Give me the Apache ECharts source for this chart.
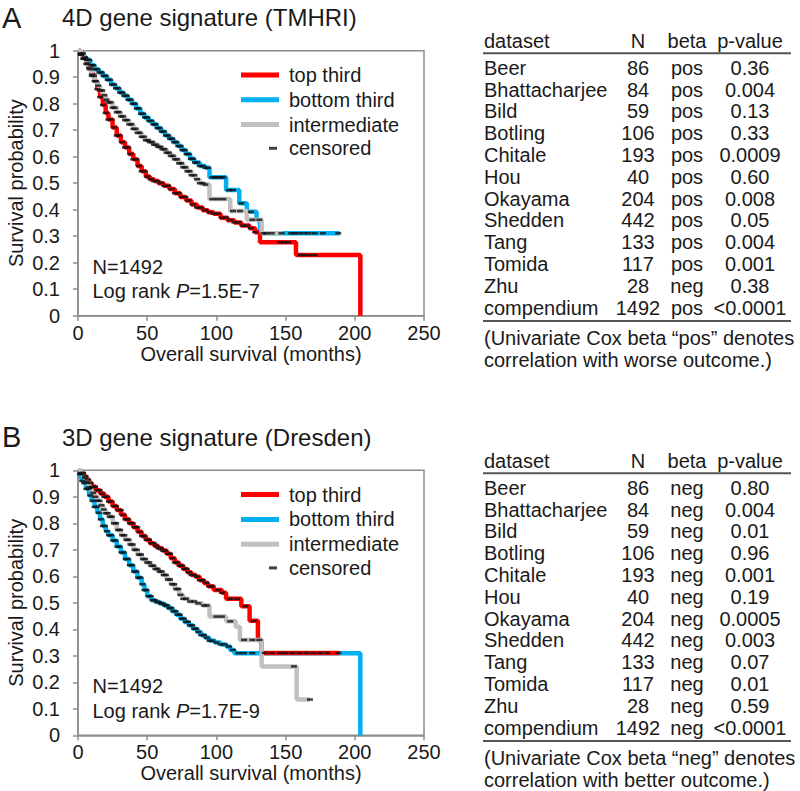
<!DOCTYPE html>
<html><head><meta charset="utf-8">
<script src="https://cdn.jsdelivr.net/npm/echarts@6/dist/echarts.min.js"></script>
<style>html,body{margin:0;padding:0;background:#fff}#c{width:800px;height:791px}</style>
</head><body><div id="c"></div>
<script>
// ---------- data ----------
const xTicks = [0, 50, 100, 150, 200, 250];
const seriesNames = ['top third', 'bottom third', 'intermediate'];

// Panel A (4D gene signature, TMHRI): [months, survival]
const aTop = [[0,1],[2,0.985],[4,0.97],[6,0.95],[8,0.935],[10,0.91],[12,0.885],[14,0.855],[16,0.825],[18,0.795],[20,0.765],[22,0.74],[25,0.71],[28,0.68],[31,0.655],[34,0.635],[37,0.61],[40,0.59],[43,0.565],[46,0.545],[49,0.525],[52,0.515],[55,0.508],[58,0.5],[62,0.49],[66,0.478],[70,0.462],[74,0.448],[78,0.435],[82,0.42],[86,0.408],[90,0.398],[94,0.39],[98,0.385],[103,0.37],[108,0.36],[113,0.352],[118,0.34],[124,0.33],[128,0.315],[131.5,0.277],[157.5,0.229],[204,0]];
const aBottom = [[0,1],[2,0.99],[4,0.975],[6,0.965],[9,0.945],[12,0.93],[15,0.918],[18,0.905],[21,0.89],[24,0.872],[27,0.858],[30,0.842],[33,0.83],[36,0.815],[39,0.8],[42,0.782],[45,0.762],[48,0.748],[51,0.735],[54,0.722],[57,0.708],[60,0.695],[63,0.68],[66,0.668],[69,0.655],[72,0.64],[75,0.625],[78,0.61],[81,0.592],[84,0.578],[88,0.565],[92,0.558],[95,0.522],[107,0.474],[116.5,0.424],[122,0.392],[129,0.361],[131.5,0.311],[189,0.311]];
const aMid = [[0,1],[2,0.985],[4,0.97],[6,0.952],[8,0.93],[10,0.905],[12,0.885],[14,0.868],[16,0.85],[18,0.832],[20,0.815],[22,0.805],[25,0.785],[28,0.768],[31,0.752],[34,0.738],[37,0.722],[40,0.705],[43,0.69],[46,0.675],[49,0.662],[52,0.655],[55,0.645],[58,0.637],[61,0.628],[64,0.615],[67,0.603],[70,0.59],[73,0.575],[76,0.56],[79,0.545],[82,0.53],[85,0.515],[88,0.5],[91,0.495],[95,0.44],[110,0.395],[122,0.362],[132.7,0.311],[148,0.311]];
const aTopCens = [2,4,6,8,10,12,14,16,18,20,22,24,26,28,30,32,34,36,38,40,42,44,46,48,50,52.5,55,57.5,60,62.5,65,67.5,70,72.5,75,77.5,80,83,86,89,92,95,98,101,104,107,110,113,116,119,122,125,128,146,149,152,161,164,167,171];
const aBottomCens = [2,3.5,5,6.5,8,9.5,11,12.5,14,15.5,17,18.5,20,21.5,23,24.5,26,27.5,29,30.5,32,33.5,35,36.5,38,39.5,41,42.5,44,45.5,47,48.5,50,51.5,53,54.5,56,57.5,59,60.5,62,63.5,65,66.5,68,69.5,71,72.5,74,75.5,77,78.5,80,81.5,83,84.5,86,88,90,92,94,97,99,101,103,105,109,112,118,125,134,147,154,156,159,163,166.5,171,177,188];
const aMidCens = [2.5,4,5.5,7,8.5,10,11.5,13,14.5,16,17.5,19,20.5,22,23.5,25,26.5,28,29.5,31,32.5,34,35.5,37,38.5,40,41.5,43,44.5,46,47.5,49,50.5,52,53.5,55,56.5,58,59.5,61,62.5,64,65.5,67,68.5,70,71.5,73,74.5,76,77.5,79,80.5,82,84,86,88,90,92,97,101,105,112,117,126,131,136,140];

// Panel B (3D gene signature, Dresden)
const bTop = [[0,1],[2,0.99],[4,0.978],[6,0.965],[8,0.952],[10,0.938],[13,0.925],[16,0.912],[19,0.9],[22,0.882],[25,0.865],[28,0.85],[31,0.832],[34,0.815],[37,0.8],[40,0.785],[43,0.768],[46,0.752],[49,0.738],[52,0.725],[55,0.715],[58,0.706],[61,0.697],[64,0.685],[67,0.668],[70,0.652],[73,0.64],[76,0.628],[79,0.615],[82,0.605],[85,0.598],[88,0.585],[91,0.575],[94,0.562],[98,0.548],[104,0.538],[107,0.515],[118,0.487],[124,0.432],[130,0.36],[132.7,0.311],[189,0.311]];
const bBottom = [[0,1],[1,0.985],[2,0.97],[3,0.96],[4,0.952],[6,0.93],[8,0.905],[10,0.885],[12,0.862],[14,0.84],[16,0.815],[18,0.79],[20,0.77],[22,0.755],[25,0.735],[28,0.712],[31,0.69],[34,0.665],[37,0.642],[40,0.618],[43,0.595],[46,0.57],[48,0.548],[50,0.525],[53,0.51],[56,0.503],[59,0.497],[62,0.49],[65,0.48],[68,0.468],[71,0.455],[74,0.44],[77,0.428],[80,0.415],[83,0.402],[86,0.39],[89,0.378],[92,0.368],[95,0.357],[99,0.35],[103,0.343],[107,0.335],[110,0.322],[113,0.31],[204,0]];
const bMid = [[0,1],[2,0.988],[4,0.972],[6,0.955],[8,0.935],[10,0.915],[12,0.9],[14,0.885],[16,0.868],[18,0.852],[20,0.838],[22,0.825],[25,0.8],[28,0.775],[31,0.755],[34,0.738],[37,0.72],[40,0.7],[43,0.682],[46,0.665],[49,0.652],[52,0.64],[55,0.628],[58,0.618],[61,0.605],[64,0.588],[67,0.57],[70,0.552],[73,0.53],[76,0.515],[80,0.505],[85,0.498],[90,0.49],[95,0.448],[107,0.43],[114,0.41],[117,0.36],[132.7,0.26],[158,0.135],[167.6,0.135]];
const bTopCens = [2,3.7,5.4,7.1,8.8,10.5,12.2,13.9,15.6,17.3,19,20.7,22.4,24.1,25.8,27.5,29.2,30.9,32.6,34.3,36,37.7,39.4,41.1,42.8,44.5,46.2,47.9,49.6,51.3,53,54.7,56.4,58.1,59.8,61.5,63.2,64.9,66.6,68.3,70,71.7,73.4,75.1,76.8,78.5,80.2,82,84,86,88,90,92.5,95,97,101,104,110,115,121,127,135,140,146,150,155,160,165,170,175,180,188];
const bBottomCens = [1.5,3,4.5,6,7.5,9,10.5,12,13.5,15,16.5,18,19.5,21,22.5,24,25.5,27,28.5,30,31.5,33,34.5,36,37.5,39,40.5,42,43.5,45,46.5,48,49.5,51,52.5,54,55.5,57,58.5,60,61.5,63,64.5,66,67.5,69,70.5,72,73.5,75,76.5,78,79.5,81,82.5,84,85.5,87,89,91,93,95,97,100,103,106,109,112,116,120,126];
const bMidCens = [2,3.5,5,6.5,8,9.5,11,12.5,14,15.5,17,18.5,20,21.5,23,24.5,26,27.5,29,30.5,32,33.5,35,36.5,38,39.5,41,42.5,44,45.5,47,48.5,50,51.5,53,54.5,56,57.5,59,60.5,62,63.5,65,66.5,68,69.5,71,72.5,74,76,78,81,84,87,91,93,100,104,110,120,126,131,156,167.6];

// Tables
const datasets = ['Beer','Bhattacharjee','Bild','Botling','Chitale','Hou','Okayama','Shedden','Tang','Tomida','Zhu','compendium'];
const sampleN = [86,84,59,106,193,40,204,442,133,117,28,1492];
const betaA = ['pos','pos','pos','pos','pos','pos','pos','pos','pos','pos','neg','pos'];
const pValueA = ['0.36','0.004','0.13','0.33','0.0009','0.60','0.008','0.05','0.004','0.001','0.38','<0.0001'];
const betaB = ['neg','neg','neg','neg','neg','neg','neg','neg','neg','neg','neg','neg'];
const pValueB = ['0.80','0.004','0.01','0.96','0.001','0.19','0.0005','0.003','0.07','0.01','0.59','<0.0001'];
const tableHeader = ['dataset','N','beta','p-value'];

// ---------- drawing ----------
const FONT = '"Liberation Sans", Arial, sans-serif';
const TXT = '#1a1a1a';
const AX = '#8c8c8c';
const RED = '#ff0000', BLUE = '#00b0f0', GRAY = '#c0c0c0';

function survAt(curve, t) {
  let s = curve[0][1];
  for (const p of curve) { if (p[0] <= t) s = p[1]; else break; }
  return s;
}

const panels = [
  {label:'A', title:'4D gene signature (TMHRI)', top:50.7, curves:[aTop,aBottom,aMid], cens:[aTopCens,aBottomCens,aMidCens], p:'1.5E-7', beta:betaA, pv:pValueA, word:'pos', out:'worse', dy:0},
  {label:'B', title:'3D gene signature (Dresden)', top:470.3, curves:[bTop,bBottom,bMid], cens:[bTopCens,bBottomCens,bMidCens], p:'1.7E-9', beta:betaB, pv:pValueB, word:'neg', out:'better', dy:420}
];
const colors = [RED, BLUE, GRAY];
const drawOrder = [1, 0, 2]; // bottom third, top third, intermediate

const grid = [], xAxis = [], yAxis = [], series = [], legend = [], graphic = [];

panels.forEach((P, gi) => {
  grid.push({left:78, top:P.top, width:346, height:265, show:true, borderColor:AX, borderWidth:1.5, backgroundColor:'transparent'});
  xAxis.push({gridIndex:gi, type:'value', min:xTicks[0], max:xTicks[xTicks.length-1], interval:50,
    name:'Overall survival (months)', nameLocation:'middle', nameGap:27,
    nameTextStyle:{fontSize:20, color:TXT, fontFamily:FONT},
    axisLine:{lineStyle:{color:AX, width:1.5}}, axisTick:{show:true, length:5, lineStyle:{color:AX, width:1.5}},
    axisLabel:{fontSize:20, color:TXT, fontFamily:FONT, margin:7}, splitLine:{show:false}});
  yAxis.push({gridIndex:gi, type:'value', min:0, max:1, interval:0.1,
    name:'Survival probability', nameLocation:'middle', nameGap:52,
    nameTextStyle:{fontSize:20, color:TXT, fontFamily:FONT},
    axisLine:{show:true, lineStyle:{color:AX, width:1.5}}, axisTick:{show:true, length:5, lineStyle:{color:AX, width:1.5}},
    axisLabel:{fontSize:20, color:TXT, fontFamily:FONT, margin:18}, splitLine:{show:false}});

  drawOrder.forEach(ci => {
    series.push({type:'line', name:seriesNames[ci], xAxisIndex:gi, yAxisIndex:gi, step:'end',
      data:P.curves[ci], symbol:'none', showSymbol:false, z:2,
      lineStyle:{color:colors[ci], width:4.5}, itemStyle:{color:colors[ci]}, animation:false});
  });
  [0,1,2].forEach(ci => {
    series.push({type:'scatter', name:'censored', xAxisIndex:gi, yAxisIndex:gi,
      data:P.cens[ci].map(t => [t, survAt(P.curves[ci], t)]),
      symbol:'rect', symbolSize:[6,2.5], itemStyle:{color:'#111'}, z:5, animation:false});
  });

  const lt = P.top + 12.1;
  legend.push({data:seriesNames, orient:'vertical', left:241, top:lt, padding:0, itemWidth:38, itemHeight:5, itemGap:0.4,
    icon:'rect', selectedMode:false,
    textStyle:{fontSize:20, lineHeight:24.4, color:TXT, fontFamily:FONT, padding:[0,0,0,5]}});
  legend.push({data:['censored'], orient:'vertical', left:269, top:lt + 73.3, padding:0, itemWidth:8, itemHeight:3,
    icon:'rect', selectedMode:false,
    textStyle:{fontSize:20, lineHeight:24.4, color:TXT, fontFamily:FONT, padding:[0,0,0,7]}});

  // Panel letter + title
  const ty = P.top - 33;
  graphic.push({type:'text', x:2, y:ty, style:{text:P.label, font:'29px ' + FONT, fill:TXT, align:'left', verticalAlign:'middle'}});
  graphic.push({type:'text', x:62, y:ty, style:{text:P.title, font:'24px ' + FONT, fill:TXT, align:'left', verticalAlign:'middle'}});
  // N and log-rank
  graphic.push({type:'text', x:92.5, y:P.top + 216, style:{text:'N=1492', font:'20px ' + FONT, fill:TXT, align:'left', verticalAlign:'middle'}});
  graphic.push({type:'text', x:92.5, y:P.top + 240.5, style:{
    text:'{n|Log rank }{i|P}{n|=' + P.p + '}', align:'left', verticalAlign:'middle',
    rich:{n:{fontSize:20, fontFamily:FONT, fill:TXT, color:TXT}, i:{fontSize:20, fontFamily:FONT, fontStyle:'italic', fill:TXT, color:TXT}}}});

  // Table
  const dy = P.dy;
  const colX = [484, 638, 687, 750];
  const aligns = ['left','center','center','center'];
  tableHeader.forEach((h, k) => {
    graphic.push({type:'text', x:colX[k], y:40.7 + dy, style:{text:h, font:'20px ' + FONT, fill:TXT, align:aligns[k], verticalAlign:'middle'}});
  });
  graphic.push({type:'line', shape:{x1:483, y1:53.3 + dy, x2:791, y2:53.3 + dy}, style:{stroke:'#555', lineWidth:2}});
  datasets.forEach((d, r) => {
    const yy = 67.7 + r * 21.8 + dy;
    const cells = [d, String(sampleN[r]), P.beta[r], P.pv[r]];
    cells.forEach((c, k) => {
      graphic.push({type:'text', x:colX[k], y:yy, style:{text:c, font:'20px ' + FONT, fill:TXT, align:aligns[k], verticalAlign:'middle'}});
    });
  });
  graphic.push({type:'line', shape:{x1:483, y1:321 + dy, x2:791, y2:321 + dy}, style:{stroke:'#555', lineWidth:2}});
  graphic.push({type:'text', x:484, y:338.3 + dy, style:{text:'(Univariate Cox beta \u201c' + P.word + '\u201d denotes', font:'20px ' + FONT, fill:TXT, align:'left', verticalAlign:'middle'}});
  graphic.push({type:'text', x:484, y:360 + dy, style:{text:'correlation with ' + P.out + ' outcome.)', font:'20px ' + FONT, fill:TXT, align:'left', verticalAlign:'middle'}});
});

const chart = echarts.init(document.getElementById('c'), null, {renderer:'svg'});
chart.setOption({animation:false, backgroundColor:'#fff', grid, xAxis, yAxis, series, legend, graphic});
</script>
</body></html>
